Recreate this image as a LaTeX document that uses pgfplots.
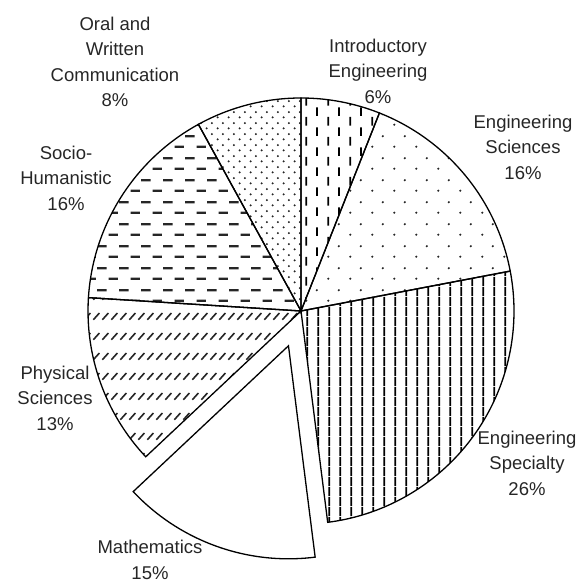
\documentclass[border=0pt]{standalone}
\usepackage{fontspec}
\setmainfont{Liberation Sans}
\usepackage{pgfplots}
\usepackage{pgfplotstable}
\pgfplotsset{compat=1.18}
\usetikzlibrary{patterns}

\pgfdeclarepatternformonly{introdash}{\pgfqpoint{0pt}{0pt}}{\pgfqpoint{21.5pt}{20pt}}{\pgfqpoint{21.5pt}{20pt}}{%
  \pgfsetlinewidth{1.8pt}%
  \pgfpathmoveto{\pgfqpoint{5.4pt}{0.5pt}}\pgfpathlineto{\pgfqpoint{5.4pt}{9.5pt}}%
  \pgfpathmoveto{\pgfqpoint{16.1pt}{10.5pt}}\pgfpathlineto{\pgfqpoint{16.1pt}{19.5pt}}%
  \pgfusepath{stroke}}
\pgfdeclarepatternformonly{sparsedots}{\pgfqpoint{0pt}{0pt}}{\pgfqpoint{21.5pt}{21.5pt}}{\pgfqpoint{21.5pt}{21.5pt}}{%
  \pgfpathcircle{\pgfqpoint{5.4pt}{5.4pt}}{1.2pt}%
  \pgfpathcircle{\pgfqpoint{16.1pt}{16.1pt}}{1.2pt}%
  \pgfusepath{fill}}
\pgfdeclarepatternformonly{vlines}{\pgfqpoint{0pt}{0pt}}{\pgfqpoint{10.8pt}{10pt}}{\pgfqpoint{10.8pt}{10pt}}{%
  \pgfsetlinewidth{1.9pt}%
  \pgfpathmoveto{\pgfqpoint{5.4pt}{0pt}}\pgfpathlineto{\pgfqpoint{5.4pt}{10pt}}%
  \pgfusepath{stroke}}
\pgfdeclarepatternformonly{slashes}{\pgfqpoint{0pt}{0pt}}{\pgfqpoint{9.3pt}{20pt}}{\pgfqpoint{9.3pt}{20pt}}{%
  \pgfsetlinewidth{1.7pt}%
  \pgfpathmoveto{\pgfqpoint{1.4pt}{6.5pt}}\pgfpathlineto{\pgfqpoint{7.9pt}{13.5pt}}%
  \pgfusepath{stroke}}
\pgfdeclarepatternformonly{hdashes}{\pgfqpoint{0pt}{0pt}}{\pgfqpoint{21.5pt}{21.5pt}}{\pgfqpoint{21.5pt}{21.5pt}}{%
  \pgfsetlinewidth{2.4pt}%
  \pgfpathmoveto{\pgfqpoint{0.6pt}{5.4pt}}\pgfpathlineto{\pgfqpoint{10.2pt}{5.4pt}}%
  \pgfpathmoveto{\pgfqpoint{11.35pt}{16.1pt}}\pgfpathlineto{\pgfqpoint{20.95pt}{16.1pt}}%
  \pgfusepath{stroke}}
\pgfdeclarepatternformonly{densedots}{\pgfqpoint{0pt}{0pt}}{\pgfqpoint{10.75pt}{10.75pt}}{\pgfqpoint{10.75pt}{10.75pt}}{%
  \pgfpathcircle{\pgfqpoint{2.7pt}{2.7pt}}{1.15pt}%
  \pgfpathcircle{\pgfqpoint{8.05pt}{8.05pt}}{1.15pt}%
  \pgfusepath{fill}}

% share of each course area (percent), clockwise from 12 o'clock; explode = offset of slice
\pgfplotstableread{
name pct explode
Intro 6 0
EngSci 16 0
EngSpec 26 0
Math 15 37
Phys 13 0
Socio 16 0
Oral 8 0
}\piedata

\tikzset{
  slice/Intro/.style={pattern=introdash,pattern color=black},
  slice/EngSci/.style={pattern=sparsedots,pattern color=black!85},
  slice/EngSpec/.style={pattern=vlines,pattern color=black},
  slice/Math/.style={fill=white},
  slice/Phys/.style={pattern=slashes,pattern color=black!85},
  slice/Socio/.style={pattern=hdashes,pattern color=black!85},
  slice/Oral/.style={pattern=densedots,pattern color=black!85},
  lbl/.style={align=center,inner sep=0pt,text=black!85,font=\fontsize{18.5}{25.5}\selectfont},
}

\begin{document}
\begin{tikzpicture}
\begin{axis}[width=579pt,height=586pt,scale only axis,
  xmin=0,xmax=579,ymin=0,ymax=586,hide axis,clip=false]
\pgfplotsextra{%
  \pgfplotstablegetrowsof{\piedata}%
  \pgfmathtruncatemacro\N{\pgfplotsretval-1}%
  \gdef\cum{0}%
  \foreach \i in {0,...,\N}{%
    \pgfplotstablegetelem{\i}{name}\of\piedata \let\nm\pgfplotsretval
    \pgfplotstablegetelem{\i}{pct}\of\piedata \let\p\pgfplotsretval
    \pgfplotstablegetelem{\i}{explode}\of\piedata \let\ex\pgfplotsretval
    \pgfmathsetmacro\a{90-3.6*\cum}%
    \pgfmathsetmacro\b{\a-3.6*\p}%
    \pgfmathsetmacro\m{(\a+\b)/2}%
    \pgfmathsetmacro\cx{301+\ex*cos(\m)}%
    \pgfmathsetmacro\cy{275+\ex*sin(\m)}%
    \edef\tmp{\noexpand\draw[line width=1.3pt,slice/\nm] (axis cs:\cx,\cy) -- ++(\a:213pt) arc[start angle=\a, end angle=\b, radius=213pt] -- cycle;}%
    \tmp
    \pgfmathsetmacro\newcum{\cum+\p}%
    \xdef\cum{\newcum}%
  }%
}
\node[lbl] at (axis cs:115,524) {Oral and\\Written\\Communication\\8\%};
\node[lbl] at (axis cs:378,515) {Introductory\\Engineering\\6\%};
\node[lbl] at (axis cs:523,439) {Engineering\\Sciences\\16\%};
\node[lbl] at (axis cs:66,408) {Socio-\\Humanistic\\16\%};
\node[lbl] at (axis cs:55,188) {Physical\\Sciences\\13\%};
\node[lbl] at (axis cs:527,123) {Engineering\\Specialty\\26\%};
\node[lbl] at (axis cs:150,26) {Mathematics\\15\%};
\end{axis}
\pgfresetboundingbox
\path (0,0) rectangle (579pt,586pt);
\end{tikzpicture}
\end{document}
